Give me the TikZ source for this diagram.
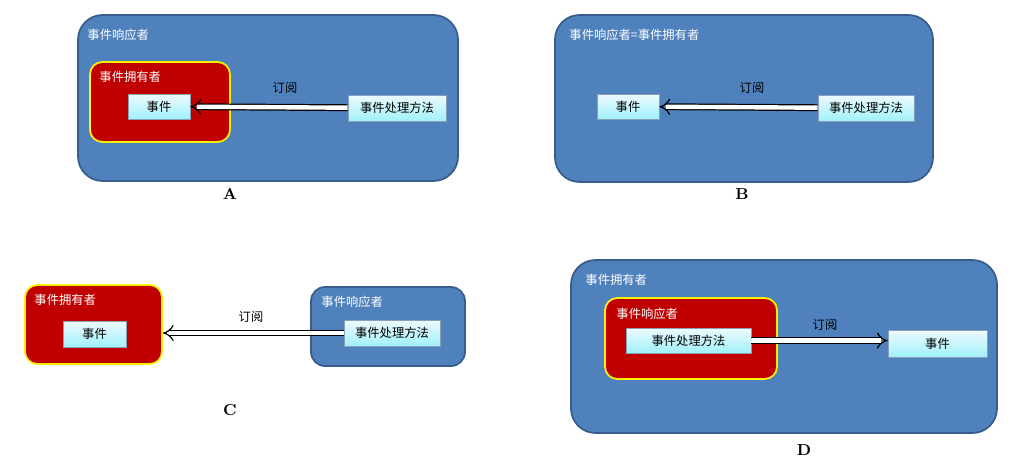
\documentclass[tikz,border=0pt]{standalone}
\usepackage{fontspec}
\newfontfamily\cjk{Noto Sans CJK SC}
\definecolor{myblue}{RGB}{79,129,189}
\definecolor{myblueline}{RGB}{56,93,138}
\definecolor{myred}{RGB}{192,0,0}
\definecolor{mycyan}{RGB}{200,238,250}
\usetikzlibrary{arrows,positioning}

\begin{document}
\begin{tikzpicture}[
  panel/.style={draw=myblueline, fill=myblue, line width=1pt, rounded corners=14pt,
    minimum width=#1, inner sep=0pt},
  owner/.style={draw=yellow, fill=myred, line width=1pt, rounded corners=7pt,
    minimum width=#1, inner sep=0pt},
  item/.style={draw=myblueline!60, top color=white!70!mycyan, bottom color=mycyan!80!cyan,
    minimum width=#1, minimum height=0.5cm, inner sep=0pt, font=\cjk\fontsize{7}{8}\selectfont},
  lbl/.style={anchor=north west, text=white, inner sep=0pt, font=\cjk\fontsize{7}{8}\selectfont},
  sub/.style={double=white, double distance=2.5pt, line width=0.7pt, -implies},
  sublbl/.style={font=\cjk\fontsize{7}{8}\selectfont},
  letter/.style={font=\bfseries\small}
]
\useasboundingbox (0,0) rectangle (20.26,-9.38);

% A
\node[panel=7.6cm, minimum height=3.32cm] (outerA) at (5.36,-1.96) {};
\node[lbl] at ([shift={(0.2,-0.3)}]outerA.north west) {事件响应者};
\node[owner=2.8cm, minimum height=1.6cm] (ownA) at (3.2,-2.04) {};
\node[lbl] at ([shift={(0.2,-0.2)}]ownA.north west) {事件拥有者};
\node[item=1.24cm] (eventA) at (3.18,-2.13) {事件};
\node[item=1.96cm, minimum height=0.52cm] (handA) at (7.94,-2.16) {事件处理方法};
\draw[sub] (handA) -- (eventA);
\node[sublbl] at (5.7,-1.76) {订阅};
\node[letter] at (4.6,-3.88) {A};

% B
\node[panel=7.56cm, minimum height=3.34cm] (outerB) at (14.88,-1.97) {};
\node[lbl] at ([shift={(0.3,-0.3)}]outerB.north west) {事件响应者=事件拥有者};
\node[item=1.24cm] (eventB) at (12.56,-2.13) {事件};
\node[item=1.92cm, minimum height=0.52cm] (handB) at (17.32,-2.16) {事件处理方法};
\draw[sub] (handB) -- (eventB);
\node[sublbl] at (15.04,-1.76) {订阅};
\node[letter] at (14.84,-3.88) {B};

% C
\node[owner=2.74cm, minimum height=1.58cm] (ownC) at (1.87,-6.49) {};
\node[lbl] at ([shift={(0.2,-0.2)}]ownC.north west) {事件拥有者};
\node[item=1.26cm, minimum height=0.52cm] (eventC) at (1.89,-6.68) {事件};
\node[panel=3.08cm, minimum height=1.58cm, rounded corners=8pt] (outerC) at (7.76,-6.53) {};
\node[lbl] at ([shift={(0.22,-0.2)}]outerC.north west) {事件响应者};
\node[item=1.92cm, minimum height=0.52cm] (handC) at (7.84,-6.66) {事件处理方法};
\draw[sub] (handC) -- (ownC.east |- handC);
\node[sublbl] at (5.02,-6.34) {订阅};
\node[letter] at (4.6,-8.2) {C};

% D
\node[panel=8.52cm, minimum height=3.46cm] (outerD) at (15.68,-6.93) {};
\node[lbl] at ([shift={(0.3,-0.3)}]outerD.north west) {事件拥有者};
\node[owner=3.44cm, minimum height=1.62cm] (ownD) at (13.82,-6.77) {};
\node[lbl] at ([shift={(0.24,-0.22)}]ownD.north west) {事件响应者};
\node[item=2.5cm] (handD) at (13.77,-6.81) {事件处理方法};
\node[item=1.98cm, minimum height=0.54cm] (eventD) at (18.75,-6.87) {事件};
\draw[sub] (handD.east) -- (eventD.west |- handD.east);
\node[sublbl] at (16.5,-6.5) {订阅};
\node[letter] at (16.08,-9.0) {D};
\end{tikzpicture}
\end{document}
